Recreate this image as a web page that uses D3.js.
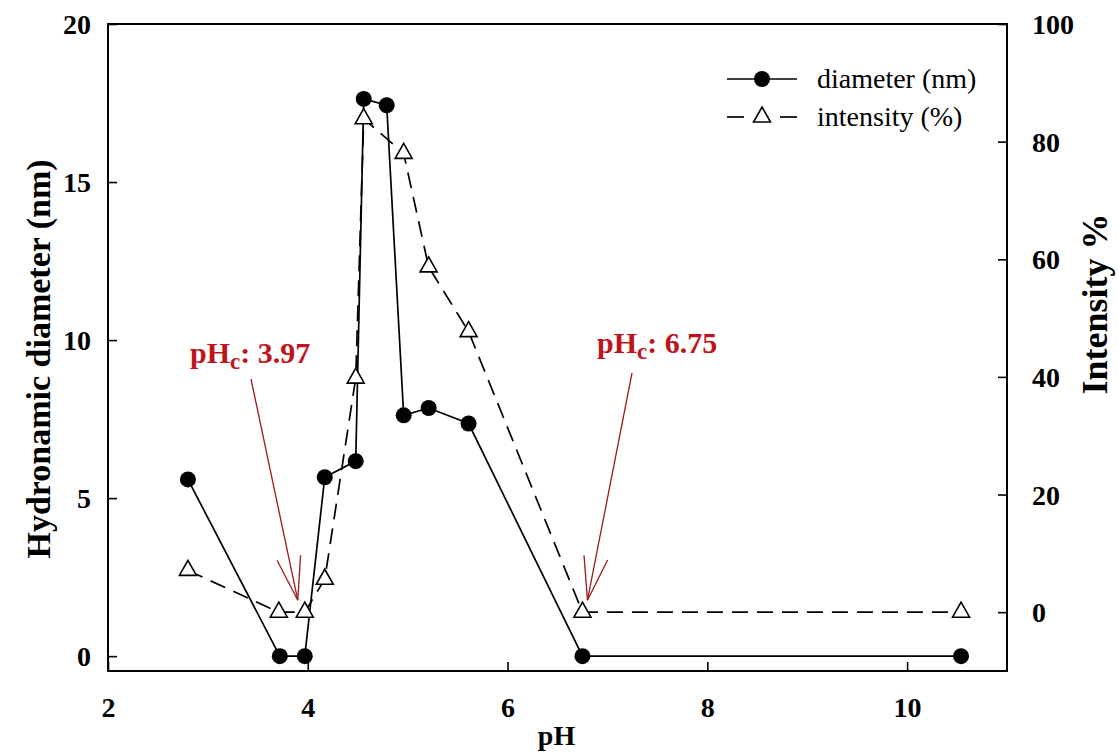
<!DOCTYPE html>
<html>
<head>
<meta charset="utf-8">
<script src="https://cdn.jsdelivr.net/npm/d3@7"></script>
<style>
  html, body { margin: 0; padding: 0; background: #fff; }
  svg { display: block; }
  text { font-family: "Liberation Serif", "Times New Roman", serif; }
</style>
</head>
<body>
<svg id="chart" width="1118" height="753"></svg>
<script>
// Hydrodynamic diameter and scattering intensity versus pH
const pHDiameter = [2.80, 3.72, 3.97, 4.17, 4.48, 4.56, 4.79, 4.96, 5.21, 5.61, 6.75, 10.54];
const diameter   = [5.59, 0.00, 0.00, 5.66, 6.17, 17.63, 17.43, 7.62, 7.85, 7.36, 0.00, 0.00];

const pHIntensity = [2.80, 3.71, 3.97, 4.17, 4.48, 4.56, 4.96, 5.21, 5.61, 6.75, 10.54];
const intensity   = [7.1, 0.0, 0.0, 5.6, 39.8, 83.9, 78.0, 58.7, 47.7, 0.0, 0.0];

const xTicks = [2, 4, 6, 8, 10];
const yLeftTicks = [0, 5, 10, 15, 20];
const yRightTicks = [0, 20, 40, 60, 80, 100];

// critical pH annotations
const criticalPH = [3.97, 6.75];

const svg = d3.select("#chart");
const plot = { left: 108, right: 1007, top: 24, bottom: 671 };

const x  = d3.scaleLinear().domain([2, 11]).range([plot.left, plot.right]);
const yL = d3.scaleLinear().domain([-0.47, 20]).range([plot.bottom, plot.top]);
const yR = d3.scaleLinear().domain([-10, 100]).range([plot.bottom, plot.top]);

const tickFont = 28;

// bottom axis
const gx = svg.append("g")
  .attr("transform", `translate(0,${plot.bottom})`)
  .call(d3.axisBottom(x).tickValues(xTicks).tickSize(-9).tickSizeOuter(0).tickFormat(d3.format("d")));
gx.selectAll("text").attr("y", 46).attr("dy", 0)
  .style("font-size", tickFont + "px").style("font-weight", "bold").attr("fill", "#000");

// left axis
const gl = svg.append("g")
  .attr("transform", `translate(${plot.left},0)`)
  .call(d3.axisLeft(yL).tickValues(yLeftTicks).tickSize(-9).tickSizeOuter(0).tickFormat(d3.format("d")));
gl.selectAll("text").attr("x", -17).attr("dy", "0.34em")
  .style("font-size", tickFont + "px").style("font-weight", "bold").attr("fill", "#000");

// right axis
const gr = svg.append("g")
  .attr("transform", `translate(${plot.right},0)`)
  .call(d3.axisRight(yR).tickValues(yRightTicks).tickSize(-9).tickSizeOuter(0).tickFormat(d3.format("d")));
gr.selectAll("text").attr("x", 25).attr("dy", "0.34em")
  .style("font-size", tickFont + "px").style("font-weight", "bold").attr("fill", "#000");

[gx, gl, gr].forEach(g => {
  g.select(".domain").remove();
  g.selectAll("line").attr("stroke", "#000").attr("stroke-width", 1.6);
});

// frame
svg.append("rect")
  .attr("x", plot.left).attr("y", plot.top)
  .attr("width", plot.right - plot.left).attr("height", plot.bottom - plot.top)
  .attr("fill", "none").attr("stroke", "#000").attr("stroke-width", 2);

// axis titles
svg.append("text")
  .attr("transform", `translate(${plot.left + (plot.right - plot.left) / 2 - 1},745)`)
  .attr("text-anchor", "middle")
  .style("font-size", "28px").style("font-weight", "bold")
  .text("pH");

svg.append("text")
  .attr("transform", "translate(50,359) rotate(-90)")
  .attr("text-anchor", "middle")
  .style("font-size", "34px").style("font-weight", "bold")
  .text("Hydronamic diameter (nm)");

svg.append("text")
  .attr("transform", "translate(1107,304) rotate(-90)")
  .attr("text-anchor", "middle")
  .style("font-size", "36px").style("font-weight", "bold")
  .text("Intensity %");

// series
const diaPts = pHDiameter.map((p, i) => [p, diameter[i]]);
const intPts = pHIntensity.map((p, i) => [p, intensity[i]]);

svg.append("path")
  .datum(diaPts)
  .attr("fill", "none").attr("stroke", "#000").attr("stroke-width", 1.7)
  .attr("d", d3.line().x(d => x(d[0])).y(d => yL(d[1])));

svg.append("path")
  .datum(intPts)
  .attr("fill", "none").attr("stroke", "#000").attr("stroke-width", 1.7)
  .attr("stroke-dasharray", "16,9")
  .attr("d", d3.line().x(d => x(d[0])).y(d => yR(d[1])));

const triPath = (s, h) => `M0,${-2 * h / 3}L${s / 2},${h / 3}L${-s / 2},${h / 3}Z`;

svg.append("g").selectAll("path")
  .data(intPts).join("path")
  .attr("transform", d => `translate(${x(d[0])},${yR(d[1])})`)
  .attr("d", triPath(17, 15))
  .attr("fill", "#fff").attr("stroke", "#000").attr("stroke-width", 1.6);

svg.append("g").selectAll("circle")
  .data(diaPts).join("circle")
  .attr("cx", d => x(d[0])).attr("cy", d => yL(d[1]))
  .attr("r", 8).attr("fill", "#000");

// legend
const legend = svg.append("g");
legend.append("line").attr("x1", 727).attr("x2", 797).attr("y1", 79).attr("y2", 79)
  .attr("stroke", "#000").attr("stroke-width", 1.7);
legend.append("circle").attr("cx", 762).attr("cy", 79).attr("r", 8).attr("fill", "#000");
legend.append("text").attr("x", 817).attr("y", 79).attr("dy", "0.33em")
  .style("font-size", "28px").text("diameter (nm)");

legend.append("line").attr("x1", 727).attr("x2", 744).attr("y1", 117).attr("y2", 117)
  .attr("stroke", "#000").attr("stroke-width", 1.7);
legend.append("line").attr("x1", 780).attr("x2", 797).attr("y1", 117).attr("y2", 117)
  .attr("stroke", "#000").attr("stroke-width", 1.7);
legend.append("path").attr("transform", "translate(762,117)").attr("d", triPath(17, 15))
  .attr("fill", "#fff").attr("stroke", "#000").attr("stroke-width", 1.6);
legend.append("text").attr("x", 817).attr("y", 117).attr("dy", "0.33em")
  .style("font-size", "28px").text("intensity (%)");

// critical pH annotations with open arrowheads
const red = "#c0141c";
const arrowRed = "#9e1a1a";
const notes = [
  { value: criticalPH[0], tx: 190, ty: 363, from: [251, 379], tip: [x(criticalPH[0]) - 7, yR(0) - 12] },
  { value: criticalPH[1], tx: 597, ty: 353, from: [632, 373], tip: [x(criticalPH[1]) + 5, yR(0) - 12] }
];

notes.forEach(n => {
  const t = svg.append("text").attr("x", n.tx).attr("y", n.ty)
    .attr("fill", red).style("font-size", "30px").style("font-weight", "bold");
  t.append("tspan").text("pH");
  t.append("tspan").attr("dy", 6).style("font-size", "23px").text("c");
  t.append("tspan").attr("dy", -6).text(": " + n.value.toFixed(2));

  const [x0, y0] = n.from, [x1, y1] = n.tip;
  svg.append("line").attr("x1", x0).attr("y1", y0).attr("x2", x1).attr("y2", y1)
    .attr("stroke", arrowRed).attr("stroke-width", 1.3);
  const ang = Math.atan2(y0 - y1, x0 - x1);
  const len = 45, spread = 15.5 * Math.PI / 180;
  [-spread, spread].forEach(s => {
    svg.append("line")
      .attr("x1", x1).attr("y1", y1)
      .attr("x2", x1 + len * Math.cos(ang + s)).attr("y2", y1 + len * Math.sin(ang + s))
      .attr("stroke", arrowRed).attr("stroke-width", 1.3);
  });
});
</script>
</body>
</html>
